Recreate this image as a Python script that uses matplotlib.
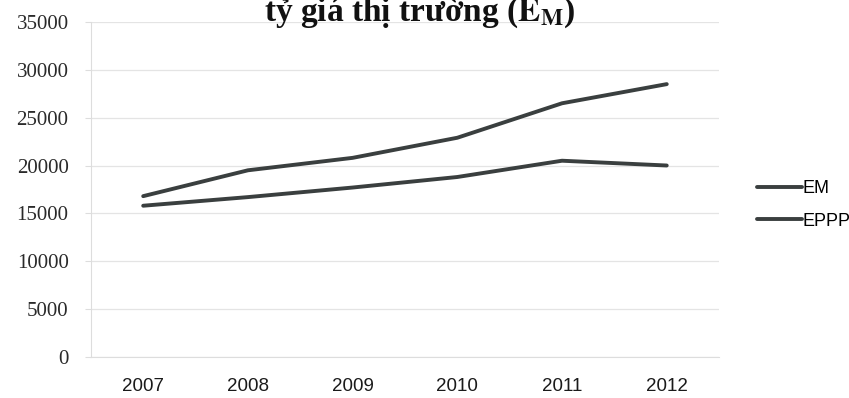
import matplotlib
matplotlib.use('Agg')
import matplotlib.pyplot as plt

# du lieu doc tu hinh
years = ['2007', '2008', '2009', '2010', '2011', '2012']
em = [15800, 16700, 17700, 18800, 20500, 20000]
eppp = [16800, 19500, 20800, 22900, 26500, 28500]
y_ticks = [0, 5000, 10000, 15000, 20000, 25000, 30000, 35000]

plt.rcParams['mathtext.fontset'] = 'stix'

fig = plt.figure(figsize=(8.49, 3.98), dpi=100)
ax = fig.add_axes([0.107, 0.103, 0.74, 0.842])

x = list(range(len(years)))
line_color = '#3a3f3f'
ax.plot(x, em, color=line_color, linewidth=2.8, solid_capstyle='round', label='EM')
ax.plot(x, eppp, color=line_color, linewidth=2.8, solid_capstyle='round', label='EPPP')

ax.set_xlim(-0.5, len(years) - 0.5)
ax.set_ylim(0, 35000)
ax.set_yticks(y_ticks)
ax.set_yticklabels([str(v) for v in y_ticks], family='Liberation Serif',
                   fontsize=15, color='#2a2a2a')
ax.set_xticks(x)
ax.set_xticklabels(years, family='Liberation Sans', fontsize=13.5, color='#1a1a1a')

ax.grid(axis='y', color='#e4e4e4', linewidth=0.9)
ax.set_axisbelow(True)
for side in ['top', 'right']:
    ax.spines[side].set_visible(False)
ax.spines['left'].set_color('#dddddd')
ax.spines['bottom'].set_color('#dddddd')
ax.tick_params(axis='y', length=4, color='#dddddd', pad=12)
ax.tick_params(axis='x', length=0, pad=15)

fig.legend(loc='upper left', bbox_to_anchor=(0.872, 0.588), frameon=False,
           prop={'family': 'Liberation Sans', 'size': 13},
           handlelength=2.5, handletextpad=0.05, labelspacing=0.85)

fig.text(0.495, 1 - 21 / 398, 'tỷ giá thị trường ($\\mathbf{E}_{\\mathbf{M}}$)',
         ha='center', va='baseline', fontsize=24, fontweight='bold',
         family='Liberation Serif', color='#111111')

plt.savefig('out.png', dpi=100)
